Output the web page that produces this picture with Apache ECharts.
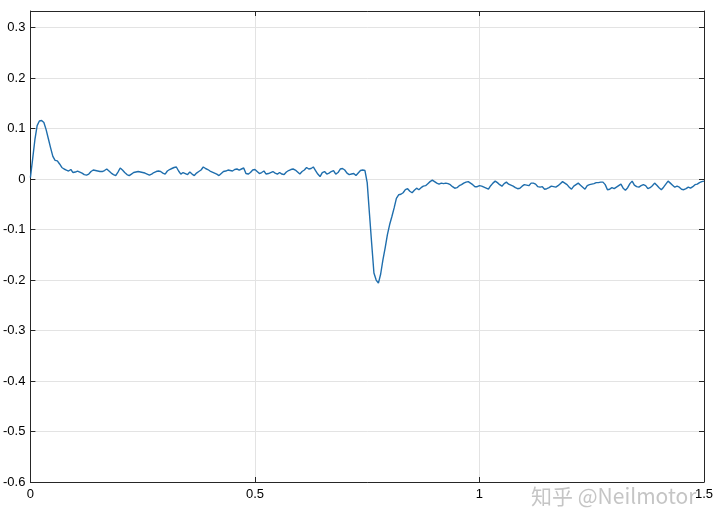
<!DOCTYPE html>
<html>
<head>
<meta charset="utf-8">
<script src="https://cdn.jsdelivr.net/npm/echarts@6/dist/echarts.min.js"></script>
<style>
html,body{margin:0;padding:0;background:#fff;}
#chart{width:720px;height:530px;}
</style>
</head>
<body>
<div id="chart"></div>
<script>
// Sample step (s)
const dt = 0.005;
// Segments of the signal, each starting at its own time
const segA_start = 0.000; // start-up overshoot
const segA = [0.003,0.040,0.078,0.106,0.115,0.116,0.112,0.098,0.080,0.062,0.045,0.037,0.036,0.030,0.023,0.020,0.018,0.016,0.019,0.013,0.014];
const segB_start = 0.105;
const segB = [0.016,0.014,0.012,0.009,0.008,0.010,0.015,0.018,0.017,0.016,0.015,0.015,0.017,0.020,0.016,0.012,0.009,0.007,0.014,0.022,
              0.018,0.013,0.009,0.007,0.010,0.013,0.014,0.015,0.014,0.013,0.012,0.010,0.008,0.010,0.013,0.015,0.016,0.015,0.012,0.010];
const segC_start = 0.305;
const segC = [0.016,0.019,0.021,0.023,0.024,0.016,0.010,0.013,0.011,0.009,0.014,0.010,0.007,0.012,0.015,0.018,0.024,0.021,0.019,0.016,
              0.014,0.012,0.010,0.007,0.011,0.015,0.016,0.018,0.017,0.016,0.019,0.020,0.018,0.020,0.022,0.011,0.010,0.013,0.018,0.019,
              0.015,0.011,0.013,0.016,0.010,0.011,0.013,0.015,0.012,0.010,0.013,0.010,0.009,0.014,0.017,0.019,0.020,0.018,0.014,0.010,
              0.015,0.018];
const segD_start = 0.615;
const segD = [0.023,0.020,0.021,0.024,0.017,0.010,0.005,0.013,0.015,0.010,0.012,0.015,0.017,0.010,0.013,0.020,0.021,0.018,0.012,0.009,
              0.010,0.011,0.007,0.012,0.017,0.018,0.017];
const segE_start = 0.750; // load step dip
const segE = [-0.007,-0.068,-0.128,-0.186,-0.200,-0.206,-0.188,-0.160,-0.136,-0.110,-0.090,-0.074,-0.057,-0.038,-0.031,-0.030,-0.027,-0.021,-0.019];
const segF_start = 0.845;
const segF = [-0.024,-0.027,-0.022,-0.018,-0.021,-0.017,-0.014,-0.013,-0.009,-0.005,-0.002,-0.005,-0.008,-0.010,-0.008,-0.009];
const segG_start = 0.925;
const segG = [-0.008,-0.009,-0.011,-0.015,-0.018,-0.017,-0.013,-0.011,-0.008,-0.006,-0.005,-0.008,-0.011,-0.015,-0.015,-0.013,-0.014,-0.016,-0.018,-0.020,
              -0.013,-0.008,-0.004,-0.007,-0.011,-0.014,-0.009,-0.006,-0.010,-0.012,-0.014,-0.017,-0.019,-0.018,-0.014,-0.011,-0.012,-0.013,-0.008,-0.008,
              -0.010,-0.015,-0.016,-0.015,-0.020,-0.019,-0.017,-0.014,-0.015,-0.016,-0.013,-0.009,-0.005,-0.008,-0.011,-0.016,-0.020,-0.014,-0.011,-0.008,
              -0.012,-0.016,-0.020];
const segH_start = 1.240;
const segH = [-0.013,-0.011,-0.010,-0.009,-0.007,-0.007,-0.006,-0.006,-0.011,-0.021,-0.020,-0.017,-0.019,-0.016,-0.013,-0.010,-0.018,-0.022,-0.017,-0.009,
              -0.004,-0.012,-0.015,-0.016,-0.013,-0.011,-0.013,-0.019,-0.017,-0.013,-0.008,-0.012,-0.017,-0.021,-0.016,-0.010,-0.004,-0.008,-0.012,-0.016,
              -0.014,-0.016,-0.020,-0.021,-0.019,-0.016,-0.018,-0.015,-0.011,-0.010,-0.007,-0.005,-0.004];

const xTicks = [0, 0.5, 1, 1.5];
const yTicks = [-0.6,-0.5,-0.4,-0.3,-0.2,-0.1,0,0.1,0.2,0.3];
const watermark = '知乎 @Neilmotor';

const segments = [[segA_start,segA],[segB_start,segB],[segC_start,segC],[segD_start,segD],
                  [segE_start,segE],[segF_start,segF],[segG_start,segG],[segH_start,segH]];
const points = [];
segments.forEach(([t0, vals]) => {
  vals.forEach((v, i) => points.push([+(t0 + i * dt).toFixed(4), v]));
});

const axisColor = '#262626';
const gridColor = '#e3e3e3';
const font = 'Liberation Sans, Arial, sans-serif';

const chart = echarts.init(document.getElementById('chart'), null, {renderer: 'canvas'});
chart.setOption({
  animation: false,
  backgroundColor: '#ffffff',
  grid: {left: 27.5, right: 16, top: 11, bottom: 48, containLabel: false},
  xAxis: [{
    type: 'value', min: xTicks[0], max: xTicks[xTicks.length-1], interval: 0.5,
    position: 'bottom',
    axisLine: {show: true, onZero: false, lineStyle: {color: axisColor, width: 1}},
    axisTick: {show: true, inside: true, length: 5, lineStyle: {color: axisColor}},
    axisLabel: {color: '#000', fontSize: 13, fontFamily: font, margin: 6},
    splitLine: {show: true, lineStyle: {color: gridColor, width: 1}}
  }, {
    type: 'value', min: xTicks[0], max: xTicks[xTicks.length-1], interval: 0.5,
    position: 'top',
    axisLine: {show: true, onZero: false, lineStyle: {color: axisColor, width: 1}},
    axisTick: {show: true, inside: true, length: 5, lineStyle: {color: axisColor}},
    axisLabel: {show: false},
    splitLine: {show: false}
  }],
  yAxis: [{
    type: 'value', min: yTicks[0], max: 0.333, interval: 0.1,
    position: 'left',
    axisLine: {show: true, onZero: false, lineStyle: {color: axisColor, width: 1}},
    axisTick: {show: true, inside: true, length: 5, lineStyle: {color: axisColor}},
    axisLabel: {color: '#000', fontSize: 13, fontFamily: font, margin: 5, showMaxLabel: false,
      formatter: v => (Math.round(v * 10) / 10).toString()},
    splitLine: {show: true, lineStyle: {color: gridColor, width: 1}}
  }, {
    type: 'value', min: yTicks[0], max: 0.333, interval: 0.1,
    position: 'right',
    axisLine: {show: true, onZero: false, lineStyle: {color: axisColor, width: 1}},
    axisTick: {show: true, inside: true, length: 5, lineStyle: {color: axisColor}},
    axisLabel: {show: false},
    splitLine: {show: false}
  }],
  series: [{
    type: 'line',
    data: points,
    xAxisIndex: 0, yAxisIndex: 0,
    showSymbol: false,
    smooth: false,
    lineStyle: {color: '#1f6ead', width: 1.4},
    z: 3
  }],
  graphic: [{
    type: 'text',
    left: 531, top: 486,
    z: 10,
    style: {text: watermark, fill: 'rgba(140,140,140,0.5)', font: '21px "Noto Sans CJK SC", sans-serif'}
  }]
});
</script>
</body>
</html>
